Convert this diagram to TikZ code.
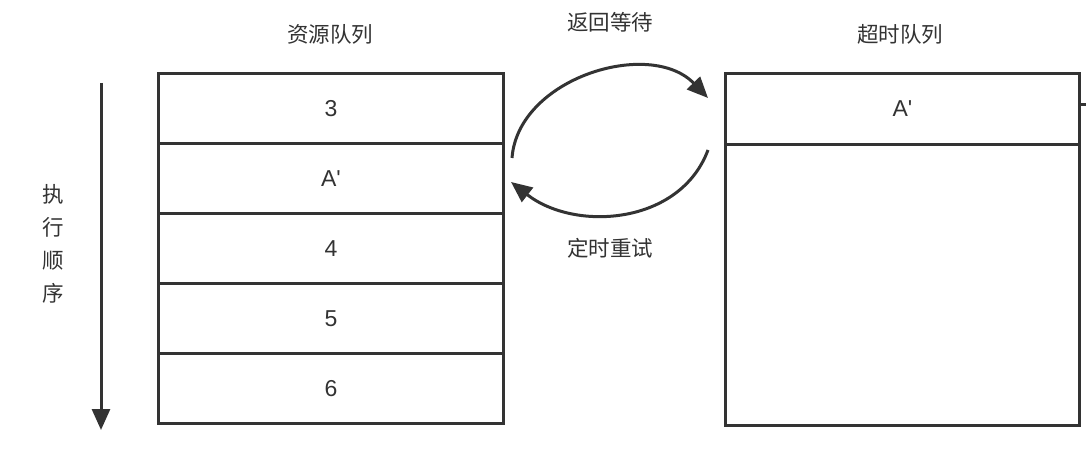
\documentclass[tikz,border=0pt]{standalone}
\usepackage{fontspec}
\setmainfont{Noto Sans CJK SC}
\newfontfamily\latinfont{Liberation Sans}
\usetikzlibrary{arrows.meta}
\definecolor{ink}{HTML}{333333}
\begin{document}
\begin{tikzpicture}[x=1pt,y=-1pt,
  cell/.style={draw=ink,line width=3pt,minimum width=345pt,minimum height=70pt,inner sep=0pt,anchor=north west,font=\latinfont\fontsize{23}{26}\selectfont,text=ink},
  lbl/.style={font=\fontsize{21.5}{24}\selectfont,text=ink,inner sep=0pt},
  conn/.style={draw=ink,line width=3pt,-{Triangle[length=21pt,width=18pt]}}]
\useasboundingbox (0,0) rectangle (1086,454);
% left queue
\node[cell] (c1) at (157,72) {3};
\node[cell] (c2) at (157,142) {A{\char"27}};
\node[cell] (c3) at (157,212) {4};
\node[cell] (c4) at (157,282) {5};
\node[cell] (c5) at (157,352) {6};
% right queue
\node[draw=ink,line width=3pt,minimum width=354pt,minimum height=352pt,inner sep=0pt,anchor=north west] (big) at (724,72) {};
\node[cell,minimum width=354pt,minimum height=71pt] (r1) at (724,72) {A{\char"27}};
\coordinate (t0) at (1078,105);
\coordinate (t1) at (1090,105);
\draw[ink,line width=3pt] (t0) -- (t1);
% titles
\node[lbl] (h1) at (330,34) {资源队列};
\node[lbl] (h2) at (900,34) {超时队列};
\node[lbl] (h3) at (610,22) {返回等待};
\node[lbl] (h4) at (610,248) {定时重试};
\node[lbl,align=center,font=\fontsize{21.5}{33}\selectfont] (v) at (53,244) {执\\行\\顺\\序};
% order arrow
\coordinate (a0) at (101,83);
\coordinate (a1) at (101,430);
\draw[conn] (a0) -- (a1);
% curved arrows
\coordinate (p0) at (512,158);
\coordinate (p1) at (708,98);
\coordinate (q0) at (708,150);
\coordinate (q1) at (511,182);
\draw[conn] (p0) .. controls (518,78) and (650,38) .. (p1);
\draw[conn] (q0) .. controls (680,225) and (575,232) .. (q1);
\end{tikzpicture}
\end{document}
